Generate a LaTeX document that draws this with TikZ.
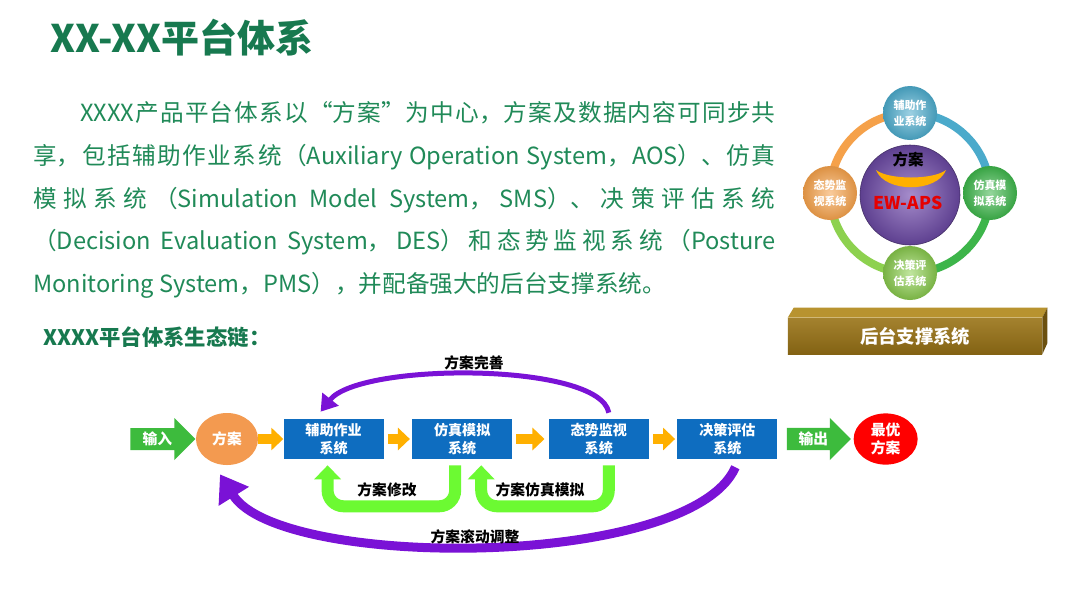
\documentclass[tikz,border=0pt]{standalone}
\usepackage{fontspec}
\setmainfont{Noto Sans CJK SC}
\usepackage{tikz}
\usetikzlibrary{arrows.meta}
\usetikzlibrary{positioning}
\usetikzlibrary{shapes.geometric,shapes.arrows}
\usetikzlibrary{backgrounds}
\XeTeXlinebreaklocale "zh"
\XeTeXlinebreakskip=0pt plus 2pt
\definecolor{titlegreen}{HTML}{17794F}
\definecolor{txtgreen}{HTML}{208A58}
\definecolor{boxblue}{HTML}{0E6DC0}
\definecolor{arrowgold}{HTML}{FFB000}
\definecolor{flowgreen}{HTML}{3DBB3D}
\definecolor{loopgreen}{HTML}{6CFA32}
\definecolor{loopviolet}{HTML}{7A12D6}
\definecolor{fanorange}{HTML}{F39A50}
\definecolor{ringteal}{HTML}{4BAACB}
\definecolor{ringgreen}{HTML}{3DB54A}
\definecolor{ringlime}{HTML}{8DD14F}
\definecolor{ringorange}{HTML}{F5A14A}
\definecolor{hubin}{HTML}{A58CCB}
\definecolor{hubout}{HTML}{5E4090}
\definecolor{baseface}{HTML}{9A7417}
\definecolor{basetop}{HTML}{B8932F}
\definecolor{baseside}{HTML}{6B500F}
\tikzstyle{sysbox}=[rectangle,fill=boxblue,minimum width=2.5cm,minimum height=1cm,inner sep=0pt,text=white,align=center,font=\fontsize{10}{12.8}\selectfont\bfseries]
\tikzstyle{fanoval}=[ellipse,inner sep=0pt,text=white,align=center,font=\fontsize{10.5}{12.8}\selectfont\bfseries]
\tikzstyle{bigarrow}=[single arrow,fill=flowgreen,single arrow head extend=0.25cm,inner xsep=2pt,inner ysep=2.6pt,text=white,font=\fontsize{10.5}{12}\selectfont\bfseries]
\tikzstyle{flowarrow}=[draw=arrowgold,line width=0.25cm,-{Triangle[width=0.55cm,length=0.3cm]}]
\tikzstyle{loop}=[draw=loopgreen,line width=0.3cm,rounded corners=0.4cm,-{Triangle[width=0.65cm,length=0.35cm]}]
\tikzstyle{swing}=[draw=loopviolet,line width=0.125cm,-{Triangle[width=0.5cm,length=0.4cm]}]
\tikzstyle{lab}=[inner sep=0pt,font=\fontsize{10.5}{12}\selectfont\bfseries]
\tikzstyle{ball}=[circle,minimum size=1.35cm,inner sep=0pt,text=white,align=center,font=\fontsize{7.8}{11.5}\selectfont\bfseries]
\tikzstyle{ringline}=[line width=0.2cm]

\begin{document}
\begin{tikzpicture}[x=0.025cm,y=-0.025cm]
\useasboundingbox (0,0) rectangle (1080,608);

\node [anchor=west,inner sep=0pt,text=titlegreen,font=\fontsize{27}{32}\selectfont\bfseries] (title) at (50,38) {XX-XX平台体系};

\node [anchor=north west,inner sep=0pt,text width=18.55cm,align=justify,text=txtgreen,font=\fontsize{16.8}{30.5}\selectfont] (intro) at (33,101)
 {\hspace*{1.175cm}XXXX产品平台体系以“方案”为中心，方案及数据内容可同步共\linebreak
  享，包括辅助作业系统（Auxiliary Operation System，AOS）、仿真\linebreak
  模拟系统（Simulation Model System，SMS）、决策评估系统\linebreak
  （Decision Evaluation System，DES）和态势监视系统（Posture\linebreak
  Monitoring System，PMS），并配备强大的后台支撑系统。};

\node [anchor=west,inner sep=0pt,text=titlegreen,font=\fontsize{15.2}{18}\selectfont\bfseries] (chain) at (43,337) {XXXX平台体系生态链：};

% platform ring
\node [ball,shade,inner color=ringteal!55!white,outer color=ringteal!90!black] (aos) at (910,113) {辅助作\\业系统};
\node [ball,shade,inner color=ringgreen!55!white,outer color=ringgreen!90!black] (sms) at (990,193) {仿真模\\拟系统};
\node [ball,shade,inner color=ringlime!55!white,outer color=ringlime!85!black] (des) at (910,273) {决策评\\估系统};
\node [ball,shade,inner color=ringorange!55!white,outer color=ringorange!90!black] (pms) at (830,193) {态势监\\视系统};
\node [circle,minimum size=2.5cm,inner sep=0pt,draw=hubout!70!black,shade,inner color=hubin,outer color=hubout] (hub) at (910,195) {};
\begin{scope}[on background layer]
\fill[white] (0,0) rectangle (1080,608);
\draw[ringline,ringteal] (aos.center) arc[start angle=270,end angle=360,radius=80];
\draw[ringline,ringgreen] (sms.center) arc[start angle=0,end angle=90,radius=80];
\draw[ringline,ringlime] (des.center) arc[start angle=90,end angle=180,radius=80];
\draw[ringline,ringorange] (pms.center) arc[start angle=180,end angle=270,radius=80];
\end{scope}
\fill[arrowgold] (876,170) .. controls (885,193) and (937,193) .. (946,170) .. controls (933,180) and (889,180) .. cycle;
\node [inner sep=0pt,font=\fontsize{11}{13}\selectfont\bfseries] (hubtop) at (908,160) {方案};
\node [inner sep=0pt,text=red!90!black,font=\fontsize{12.5}{14}\selectfont\bfseries] (hubname) at (908,203) {EW-APS};

\node [rectangle,minimum width=6.35cm,minimum height=0.9cm,inner sep=0pt,shade,top color=baseface!90!white,bottom color=baseface!85!black,text=white,font=\fontsize{13}{15}\selectfont\bfseries] (base) at (915,336) {后台支撑系统};
\fill[basetop] (base.north west) -- ++(6,-10) -- ([shift={(5,-10)}]base.north east) -- (base.north east) -- cycle;
\fill[baseside] (base.north east) -- ++(5,-10) -- ([shift={(5,-11)}]base.south east) -- (base.south east) -- cycle;

% flow chain
\node [fanoval,fill=fanorange,minimum width=1.55cm,minimum height=1.3cm] (fa) at (227,439) {方案};
\node [bigarrow,minimum height=1.625cm,left=0pt of fa] (in) {输入};
\node [sysbox,right=0.625cm of fa] (s1) {辅助作业\\系统};
\node [sysbox,right=0.7cm of s1] (s2) {仿真模拟\\系统};
\node [sysbox,right=0.9cm of s2] (s3) {态势监视\\系统};
\node [sysbox,right=0.7cm of s3] (s4) {决策评估\\系统};
\node [bigarrow,minimum height=1.6cm,right=0.225cm of s4] (out) {输出};
\node [fanoval,fill=red,minimum width=1.6cm,minimum height=1.28cm,right=0.05cm of out] (best) {最优\\方案};

\draw[flowarrow] (fa.east) -- (s1.west);
\draw[flowarrow,shorten <=0.1cm,shorten >=0.05cm] (s1.east) -- (s2.west);
\draw[flowarrow,shorten <=0.1cm,shorten >=0.1cm] (s2.east) -- (s3.west);
\draw[flowarrow,shorten <=0.1cm,shorten >=0.05cm] (s3.east) -- (s4.west);

\draw[loop] ([shift={(-7,6)}]s2.south) -- ++(0,41) -| ([shift={(-6,6)}]s1.south);
\draw[loop] ([shift={(10,6)}]s3.south) -- ++(0,41) -| ([shift={(19,6)}]s2.south);
\draw[swing] ([shift={(10,-6)}]s3.north) .. controls (600,362) and (360,362) .. ([shift={(-13,-7)}]s1.north);
\draw[swing,line width=0.225cm,-{Triangle[width=0.85cm,length=0.65cm]}] ([shift={(8,8)}]s4.south) .. controls (690,570) and (280,570) .. ([shift={(-7,9)}]fa.south);

\node [lab] (perfect) at (474,363) {方案完善};
\node [lab] (modify) at (387,490) {方案修改};
\node [lab] (simulate) at (540,490) {方案仿真模拟};
\node [lab] (rolling) at (475,537) {方案滚动调整};
\end{tikzpicture}
\end{document}
